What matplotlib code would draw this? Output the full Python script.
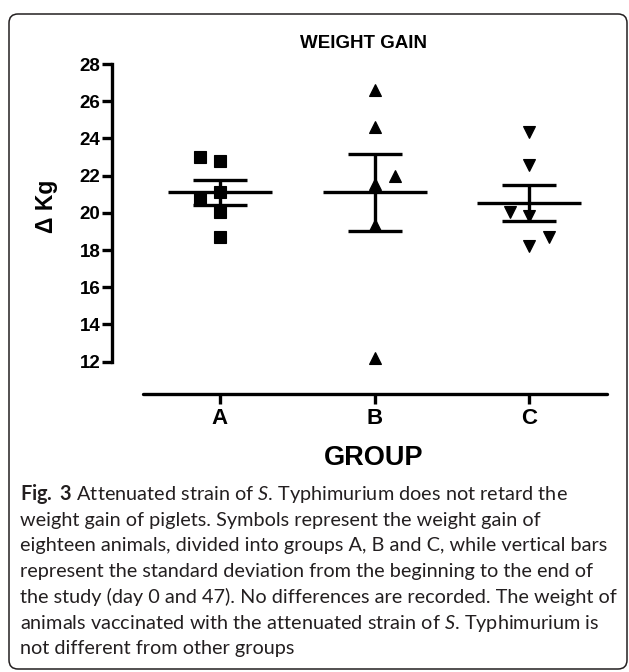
import matplotlib.pyplot as plt
import numpy as np
from matplotlib.patches import FancyBboxPatch
from matplotlib.transforms import IdentityTransform

# values
GROUPS = ["A", "B", "C"]
GAIN_A = [23.02, 22.80, 21.13, 20.73, 20.04, 18.71]
GAIN_B = [26.60, 24.63, 21.98, 21.53, 19.33, 12.18]
GAIN_C = [24.36, 22.57, 20.06, 19.83, 18.68, 18.23]
# horizontal scatter of the symbols inside each group
JITTER_A = [-0.13, 0, 0, -0.13, 0, 0]
JITTER_B = [0, 0, 0.13, 0, 0, 0]
JITTER_C = [0, 0, -0.125, 0, 0.125, 0]
MEANS = [21.10, 21.10, 20.53]
ERRORS = [0.69, 2.06, 0.98]
Y_TICKS = [12, 14, 16, 18, 20, 22, 24, 26, 28]

CAPTION = [
    r"$\mathbf{Fig.\ 3}$ Attenuated strain of $\mathit{S}$. Typhimurium does not retard the",
    "weight gain of piglets. Symbols represent the weight gain of",
    "eighteen animals, divided into groups A, B and C, while vertical bars",
    "represent the standard deviation from the beginning to the end of",
    "the study (day 0 and 47). No differences are recorded. The weight of",
    r"animals vaccinated with the attenuated strain of $\mathit{S}$. Typhimurium is",
    "not different from other groups",
]

plt.rcParams["font.family"] = ["Liberation Sans", "DejaVu Sans"]
plt.rcParams["mathtext.fontset"] = "custom"
plt.rcParams["mathtext.rm"] = "Lato"
plt.rcParams["mathtext.it"] = "Lato:italic"
plt.rcParams["mathtext.bf"] = "Lato:bold"

W, H = 629, 672
fig = plt.figure(figsize=(W / 100, H / 100), dpi=100)

# axes box in pixels: left 111.7, right 606.7, top 64, bottom 394
ax = fig.add_axes([111.7 / W, 1 - 394 / H, (606.7 - 111.7) / W, (394 - 64) / H])

LW = 2.4
markers = ["s", "^", "v"]
series = [(GAIN_A, JITTER_A), (GAIN_B, JITTER_B), (GAIN_C, JITTER_C)]
positions = np.arange(1, len(GROUPS) + 1)

for i, (vals, jit) in enumerate(series):
    x = positions[i]
    ax.plot(x + np.array(jit), vals, linestyle="none", marker=markers[i],
            ms=8, mew=0.8, color="black", zorder=3, clip_on=False)
    ax.hlines(MEANS[i], x - 0.337, x + 0.337, color="black", lw=LW, zorder=2)

ax.errorbar(positions, MEANS, yerr=ERRORS, fmt="none", ecolor="black",
            elinewidth=LW, capsize=19.2, capthick=LW, zorder=2)

ax.set_xlim(0.30, 3.5)
ax.set_ylim(10.26, 28)
ax.set_xticks(positions)
ax.set_xticklabels(GROUPS)
ax.set_yticks(Y_TICKS)

for side in ["top", "right"]:
    ax.spines[side].set_visible(False)
ax.spines["left"].set_bounds(12, 28)
ax.spines["bottom"].set_bounds(0.5, 3.5)
ax.spines["left"].set_linewidth(LW)
ax.spines["bottom"].set_linewidth(LW)
ax.spines["left"].set_capstyle("projecting")
ax.spines["bottom"].set_capstyle("round")

ax.tick_params(axis="y", length=7, width=LW, pad=1, labelsize=13.5)
ax.tick_params(axis="x", length=7, width=LW, pad=3, labelsize=16)
for lab in ax.get_xticklabels() + ax.get_yticklabels():
    lab.set_fontweight("bold")

fig.text(363 / W, 1 - 44 / H, "WEIGHT GAIN", ha="center", va="center",
         fontsize=13.5, fontweight="bold")
fig.text(46.7 / W, 1 - 206.7 / H, "Δ Kg", ha="center", va="center",
         rotation=90, fontsize=16.5, fontweight="bold")
fig.text(373.3 / W, 1 - 458 / H, "GROUP", ha="center", va="center",
         fontsize=19.5, fontweight="bold")

# caption
line_y = 500
for line in CAPTION:
    fig.text(20 / W, 1 - line_y / H, line, ha="left", va="baseline",
             fontsize=14.3, family="Lato", color="#231f20")
    line_y += 25.7

# rounded frame around figure and caption
frame = FancyBboxPatch((9, 672 - 669), 618, 655,
                       boxstyle="round,pad=0,rounding_size=9",
                       transform=IdentityTransform(), fill=False,
                       edgecolor="#231f20", lw=1.1)
fig.add_artist(frame)

fig.savefig("out.png", dpi=100)
